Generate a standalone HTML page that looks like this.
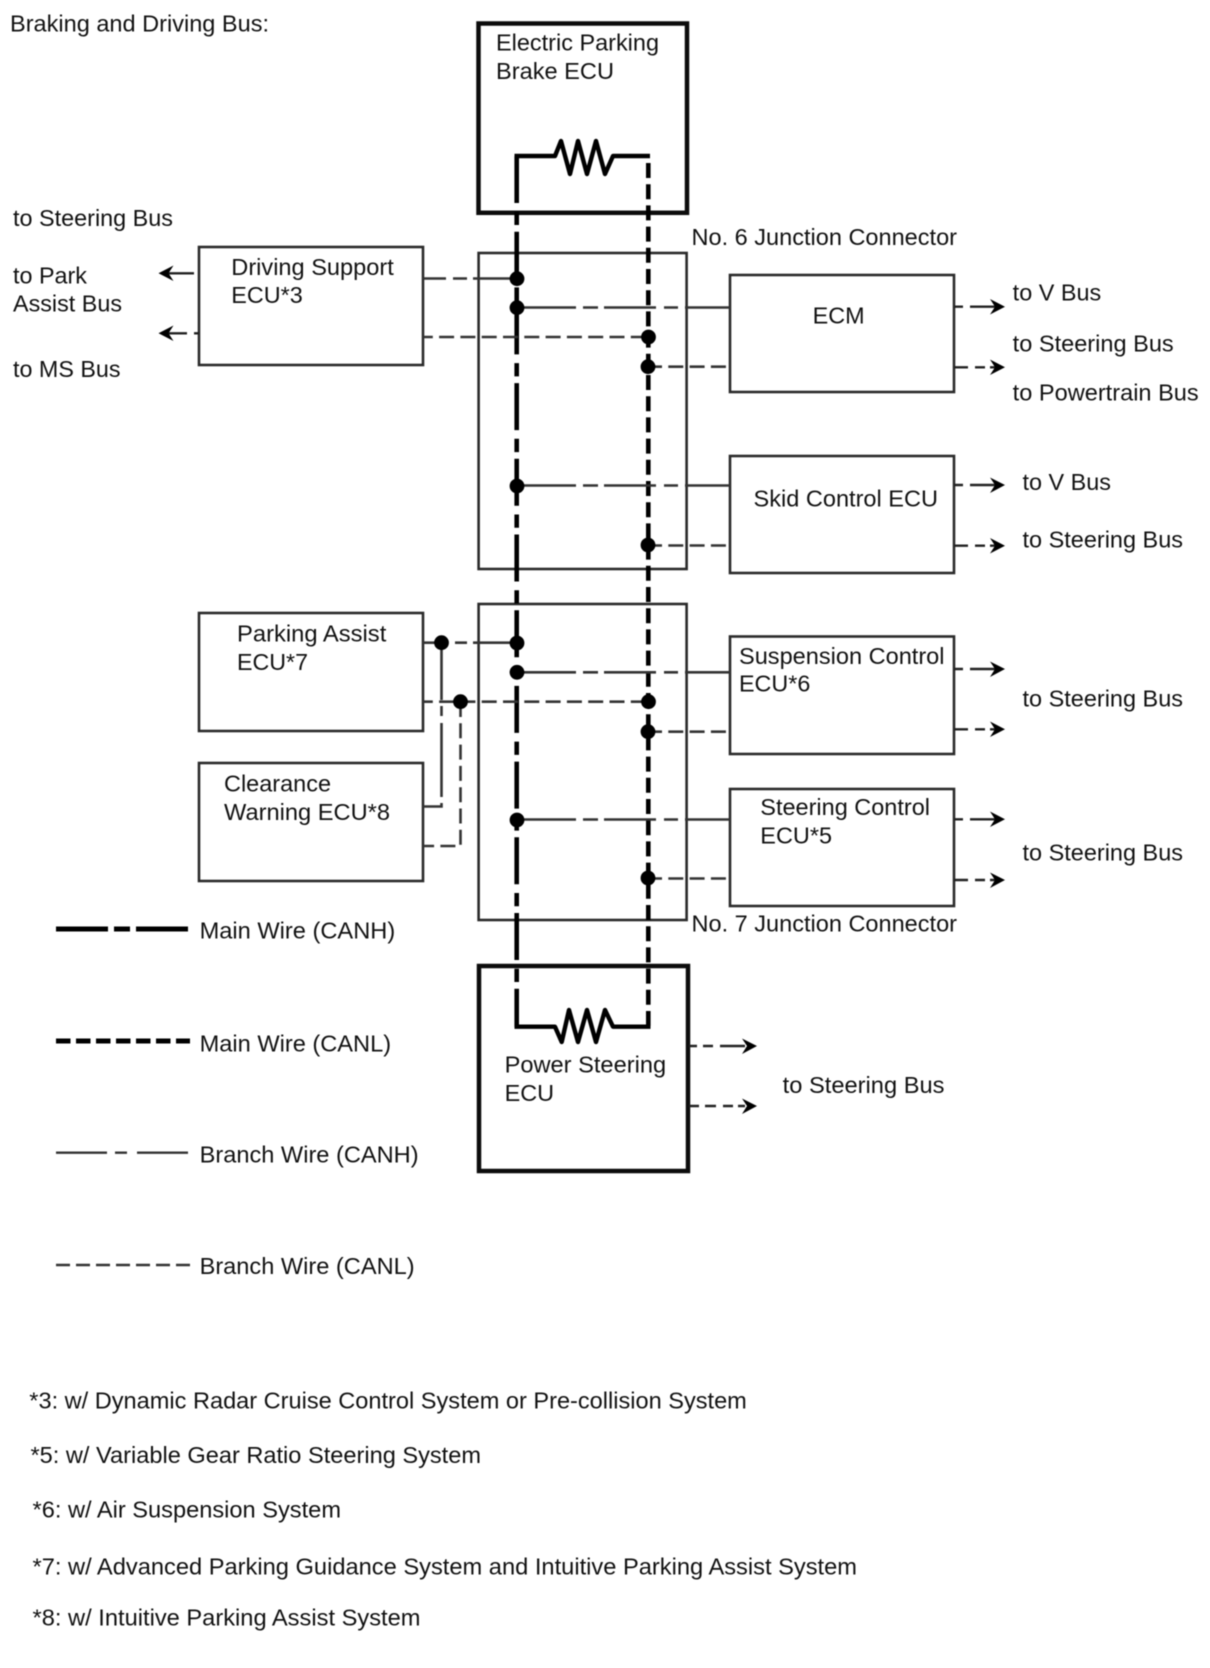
<!DOCTYPE html>
<html>
<head>
<meta charset="utf-8">
<style>
html,body{margin:0;padding:0;background:#fff;width:1210px;height:1668px;overflow:hidden}
svg{display:block;filter:blur(.55px)}
text{font-family:"Liberation Sans",sans-serif;font-size:23px;fill:#111}
.box{fill:none;stroke:#2a2a2a;stroke-width:2.6}
.thick{fill:none;stroke:#0c0c0c;stroke-width:4.5}
.h{fill:none;stroke:#333;stroke-width:2.6}
.l{fill:none;stroke:#333;stroke-width:2.6;stroke-dasharray:15 6.3}
.mh{fill:none;stroke:#000;stroke-width:4.6;stroke-dasharray:47 8.7 13.3 6.7}
.ml{fill:none;stroke:#000;stroke-width:4.6;stroke-dasharray:15 6.2}
.a{fill:none;stroke:#222;stroke-width:2.4}
</style>
</head>
<body>
<svg width="1210" height="1668" viewBox="0 0 1210 1668" xmlns="http://www.w3.org/2000/svg">
<!-- boxes -->
<rect class="thick" x="478.500" y="23.500" width="208.500" height="189.300"/>
<rect class="thick" x="479" y="966" width="209" height="205"/>
<rect class="box" x="478.600" y="253" width="208" height="316"/>
<rect class="box" x="478.600" y="604" width="208" height="316"/>
<rect class="box" x="199" y="247" width="224" height="118"/>
<rect class="box" x="199" y="613" width="224" height="118"/>
<rect class="box" x="199" y="763" width="224" height="118"/>
<rect class="box" x="730" y="275" width="224" height="117"/>
<rect class="box" x="730" y="456" width="224" height="117"/>
<rect class="box" x="730" y="636.500" width="224" height="117.500"/>
<rect class="box" x="730" y="789" width="224" height="117"/>

<!-- main wires -->
<line class="mh" x1="516.700" y1="156" x2="516.700" y2="1027"/>
<line class="ml" x1="648.300" y1="163" x2="648.300" y2="1027"/>
<polyline fill="none" stroke="#000" stroke-width="4.400" stroke-linejoin="round" points="514.500,156 555,156 561,141 570,174 578,141 587,174 596,141 605,174 613,156 650,156"/>
<polyline fill="none" stroke="#000" stroke-width="4.400" stroke-linejoin="round" points="514.500,1026.700 555,1026.700 561.700,1042 569,1010 578,1042 587,1010 596,1042 605,1010 613,1026.700 650.500,1026.700"/>

<!-- branch CANH -->
<g class="h">
<path d="M517 307.500H576M583 307.500H598M604 307.500H656M664 307.500H678M685 307.500H730"/>
<path d="M517 485.500H576M583 485.500H598M604 485.500H656M664 485.500H678M685 485.500H730"/>
<path d="M517 672.300H576M583 672.300H598M604 672.300H656M664 672.300H678M685 672.300H730"/>
<path d="M517 819.500H576M583 819.500H598M604 819.500H656M664 819.500H678M685 819.500H730"/>
<path d="M423 278.500H446M453 278.500H467M473 278.500H517"/>
<path d="M423 642.700H446M455 642.700H467M473 642.700H517"/>
<path d="M441.500 643V700M441.500 706V716M441.500 723V797M441.500 803V806.500H423"/>
</g>
<!-- branch CANL -->
<g class="l">
<line x1="423" y1="337" x2="648" y2="337" stroke-dashoffset="5.200"/>
<line x1="423" y1="701.700" x2="648" y2="701.700" stroke-dashoffset="5.200"/>
<line x1="648" y1="366.700" x2="728" y2="366.700" stroke-dashoffset="1"/>
<line x1="648" y1="545.500" x2="728" y2="545.500" stroke-dashoffset="1"/>
<line x1="648" y1="731.700" x2="728" y2="731.700" stroke-dashoffset="1"/>
<line x1="648" y1="878.500" x2="728" y2="878.500" stroke-dashoffset="1"/>
<polyline points="460.500,702 460.500,846 423,846"/>
</g>

<!-- dots -->
<g fill="#000">
<circle cx="517" cy="278.700" r="7.400"/>
<circle cx="517" cy="307.700" r="7.400"/>
<circle cx="648.500" cy="337" r="7.400"/>
<circle cx="648" cy="366.700" r="7.400"/>
<circle cx="517" cy="486" r="7.400"/>
<circle cx="648" cy="545" r="7.400"/>
<circle cx="441.500" cy="642.700" r="7.400"/>
<circle cx="517" cy="643" r="7.400"/>
<circle cx="517" cy="672.300" r="7.400"/>
<circle cx="460.500" cy="701.700" r="7.400"/>
<circle cx="648.500" cy="701.700" r="7.400"/>
<circle cx="648" cy="731.700" r="7.400"/>
<circle cx="517" cy="820" r="7.400"/>
<circle cx="648" cy="878" r="7.400"/>
</g>

<!-- arrows -->
<g class="a">
<path d="M954 306.700H963M970 306.700H995"/>
<path d="M954 367.300H968M975 367.300H985M990 367.300H995"/>
<path d="M954 485H963M970 485H995"/>
<path d="M954 545.700H968M975 545.700H985M990 545.700H995"/>
<path d="M954 669H963M970 669H995"/>
<path d="M954 729.300H968M975 729.300H985M990 729.300H995"/>
<path d="M954 819.300H963M970 819.300H995"/>
<path d="M954 880H968M975 880H985M990 880H995"/>
<path d="M689 1046H697M703 1046H713M720 1046H745"/>
<path d="M689 1106H699M705 1106H716M723 1106H733M738 1106H745"/>
<path d="M194 273.300H166"/>
<path d="M199 333.300H194M187 333.300H166"/>
</g>
<g fill="#000">
<polygon points="1005,306.700 990,299 995,306.700 990,314.500"/>
<polygon points="1005,367.300 990,359.500 995,367.300 990,375"/>
<polygon points="1005,485 990,477.500 995,485 990,493"/>
<polygon points="1005,545.700 990,538 995,545.700 990,553.500"/>
<polygon points="1005,669 990,661.500 995,669 990,677"/>
<polygon points="1005,729.300 990,721.500 995,729.300 990,737"/>
<polygon points="1005,819.300 990,811.500 995,819.300 990,827"/>
<polygon points="1005,880 990,872.500 995,880 990,888"/>
<polygon points="757,1046 742,1038.500 747,1046 742,1054"/>
<polygon points="757,1106 742,1098.500 747,1106 742,1114"/>
<polygon points="158.500,273.300 173.500,265.500 168.500,273.300 173.500,281"/>
<polygon points="158.500,333.300 173.500,325.500 168.500,333.300 173.500,341"/>
</g>

<!-- legend -->
<path d="M56 929H108M114 929H130M136 929H188" stroke="#000" stroke-width="5" fill="none"/>
<line x1="56" y1="1041" x2="190" y2="1041" stroke="#000" stroke-width="5" stroke-dasharray="14.500 5.500"/>
<path d="M56 1152.700H107M115 1152.700H127M137 1152.700H188" stroke="#333" stroke-width="2.400" fill="none"/>
<line x1="56" y1="1265" x2="190" y2="1265" stroke="#333" stroke-width="2.400" stroke-dasharray="14 6"/>

<!-- text -->
<text lengthAdjust="spacingAndGlyphs" x="10" y="31.700" textLength="259">Braking and Driving Bus:</text>
<text lengthAdjust="spacingAndGlyphs" x="496" y="50.700" textLength="163">Electric Parking</text>
<text lengthAdjust="spacingAndGlyphs" x="496" y="79" textLength="118">Brake ECU</text>
<text lengthAdjust="spacingAndGlyphs" x="13" y="226" textLength="160">to Steering Bus</text>
<text lengthAdjust="spacingAndGlyphs" x="13" y="283.500" textLength="74">to Park</text>
<text lengthAdjust="spacingAndGlyphs" x="13" y="311.700" textLength="109">Assist Bus</text>
<text lengthAdjust="spacingAndGlyphs" x="13" y="377.200" textLength="107.500">to MS Bus</text>
<text lengthAdjust="spacingAndGlyphs" x="231.300" y="275" textLength="162.500">Driving Support</text>
<text lengthAdjust="spacingAndGlyphs" x="231.300" y="303" textLength="71.500">ECU*3</text>
<text lengthAdjust="spacingAndGlyphs" x="691.500" y="245" textLength="265.500">No. 6 Junction Connector</text>
<text lengthAdjust="spacingAndGlyphs" x="812.700" y="323.300" textLength="52">ECM</text>
<text lengthAdjust="spacingAndGlyphs" x="1012.700" y="300.700" textLength="88.500">to V Bus</text>
<text lengthAdjust="spacingAndGlyphs" x="1012.700" y="351.700" textLength="161">to Steering Bus</text>
<text lengthAdjust="spacingAndGlyphs" x="1012.700" y="400.700" textLength="186">to Powertrain Bus</text>
<text lengthAdjust="spacingAndGlyphs" x="753.500" y="506.700" textLength="184.500">Skid Control ECU</text>
<text lengthAdjust="spacingAndGlyphs" x="1022.500" y="490" textLength="88.500">to V Bus</text>
<text lengthAdjust="spacingAndGlyphs" x="1022.500" y="547.700" textLength="160.500">to Steering Bus</text>
<text lengthAdjust="spacingAndGlyphs" x="237" y="641.700" textLength="149.300">Parking Assist</text>
<text lengthAdjust="spacingAndGlyphs" x="237" y="670" textLength="71">ECU*7</text>
<text lengthAdjust="spacingAndGlyphs" x="224" y="791.700" textLength="107">Clearance</text>
<text lengthAdjust="spacingAndGlyphs" x="224" y="820" textLength="166">Warning ECU*8</text>
<text lengthAdjust="spacingAndGlyphs" x="199.600" y="938.300" textLength="195.600">Main Wire (CANH)</text>
<text lengthAdjust="spacingAndGlyphs" x="739" y="664" textLength="205.500">Suspension Control</text>
<text lengthAdjust="spacingAndGlyphs" x="739" y="691.700" textLength="71.300">ECU*6</text>
<text lengthAdjust="spacingAndGlyphs" x="1022.500" y="706.500" textLength="160.500">to Steering Bus</text>
<text lengthAdjust="spacingAndGlyphs" x="760.300" y="815" textLength="169.700">Steering Control</text>
<text lengthAdjust="spacingAndGlyphs" x="760.300" y="843.300" textLength="71.700">ECU*5</text>
<text lengthAdjust="spacingAndGlyphs" x="1022.500" y="860.500" textLength="160.500">to Steering Bus</text>
<text lengthAdjust="spacingAndGlyphs" x="691.500" y="931.700" textLength="265.500">No. 7 Junction Connector</text>
<text lengthAdjust="spacingAndGlyphs" x="199.600" y="1051.700" textLength="191.500">Main Wire (CANL)</text>
<text lengthAdjust="spacingAndGlyphs" x="199.600" y="1162.700" textLength="219">Branch Wire (CANH)</text>
<text lengthAdjust="spacingAndGlyphs" x="199.600" y="1274" textLength="215">Branch Wire (CANL)</text>
<text lengthAdjust="spacingAndGlyphs" x="504.600" y="1072.700" textLength="161.500">Power Steering</text>
<text lengthAdjust="spacingAndGlyphs" x="504.600" y="1101" textLength="49.500">ECU</text>
<text lengthAdjust="spacingAndGlyphs" x="782.700" y="1093" textLength="161.800">to Steering Bus</text>
<text lengthAdjust="spacingAndGlyphs" x="29.300" y="1408.300" textLength="717.500">*3: w/ Dynamic Radar Cruise Control System or Pre-collision System</text>
<text lengthAdjust="spacingAndGlyphs" x="30.500" y="1463" textLength="450.500">*5: w/ Variable Gear Ratio Steering System</text>
<text lengthAdjust="spacingAndGlyphs" x="32.500" y="1517.500" textLength="308.500">*6: w/ Air Suspension System</text>
<text lengthAdjust="spacingAndGlyphs" x="32.500" y="1574.500" textLength="824.500">*7: w/ Advanced Parking Guidance System and Intuitive Parking Assist System</text>
<text lengthAdjust="spacingAndGlyphs" x="32.500" y="1625.700" textLength="388">*8: w/ Intuitive Parking Assist System</text>
</svg>
</body>
</html>
